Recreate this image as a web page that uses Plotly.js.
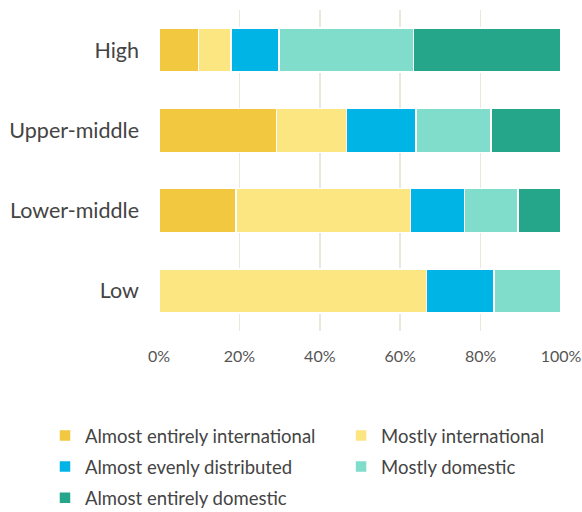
<!DOCTYPE html>
<html>
<head>
<meta charset="utf-8">
<script src="https://cdn.plot.ly/plotly-3.0.1.min.js"></script>
<style>html,body{margin:0;padding:0;background:#fff;}#chart{width:582px;height:512px;}</style>
</head>
<body>
<div id="chart"></div>
<script>
const categories = ["High", "Upper-middle", "Lower-middle", "Low"];
const seriesNames = ["Almost entirely international", "Mostly international", "Almost evenly distributed", "Mostly domestic", "Almost entirely domestic"];
const almostEntirelyInternational = [9.8, 29.2, 19.2, 0];
const mostlyInternational = [8.1, 17.4, 43.4, 66.6];
const almostEvenlyDistributed = [11.9, 17.3, 13.4, 16.7];
const mostlyDomestic = [33.5, 18.7, 13.3, 16.7];
const almostEntirelyDomestic = [36.7, 17.4, 10.7, 0];
const colors = ["#F1C840", "#FBE682", "#00B5E6", "#80DDCC", "#25A58A"];
const legendColumn = ["legend", "legend2", "legend", "legend2", "legend"];
const tickVals = [0, 20, 40, 60, 80, 100];
const tickText = ["0%", "20%", "40%", "60%", "80%", "100%"];

const series = [almostEntirelyInternational, mostlyInternational, almostEvenlyDistributed, mostlyDomestic, almostEntirelyDomestic];
const traces = series.map((vals, i) => ({
  type: "bar",
  orientation: "h",
  name: seriesNames[i],
  y: categories,
  x: vals,
  legend: legendColumn[i],
  legendgroup: "g" + i,
  marker: {color: colors[i], line: {color: "#ffffff", width: 1.5}},
  hoverinfo: "x+name"
}));

const legendCommon = {
  orientation: "v",
  xref: "container", yref: "container",
  xanchor: "left", yanchor: "top",
  y: 0.1855,
  traceorder: "grouped",
  tracegroupgap: 4,
  font: {size: 18.5, color: "#444444"},
  itemwidth: 30,
  bgcolor: "rgba(0,0,0,0)"
};

const layout = {
  width: 582, height: 512,
  barmode: "stack",
  bargap: 0.45,
  margin: {l: 159, r: 21, t: 10, b: 181, autoexpand: false},
  paper_bgcolor: "#ffffff",
  plot_bgcolor: "#ffffff",
  font: {family: "Lato, 'Open Sans', sans-serif", color: "#444444"},
  xaxis: {
    range: [0, 100],
    tickvals: tickVals, ticktext: tickText,
    showgrid: true, gridcolor: "#e8e8dc", gridwidth: 1.5,
    zeroline: false, showline: false,
    tickfont: {size: 16, color: "#555555"},
    ticks: "", ticklen: 0,
    ticklabelstandoff: 14
  },
  yaxis: {
    categoryorder: "array", categoryarray: categories.slice().reverse(),
    tickfont: {size: 21.5, color: "#444444"},
    ticks: "", ticklen: 0,
    showgrid: false, zeroline: false, showline: false,
    ticklabelstandoff: 19
  },
  showlegend: true,
  legend: Object.assign({}, legendCommon, {x: 0.0773}),
  legend2: Object.assign({}, legendCommon, {x: 0.586})
};

Plotly.newPlot("chart", traces, layout, {displayModeBar: false, staticPlot: true});
</script>
</body>
</html>
